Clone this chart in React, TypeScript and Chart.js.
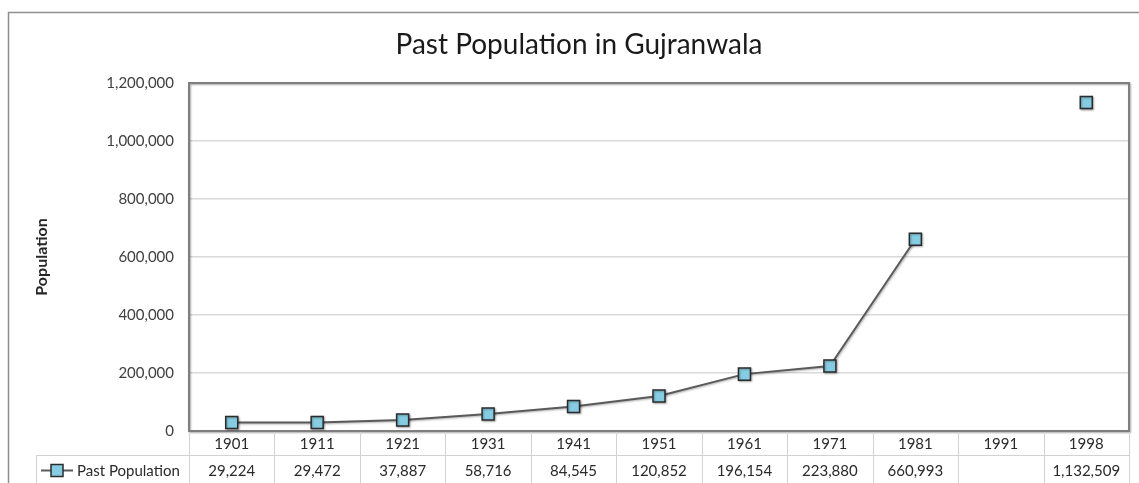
import React, { useEffect, useRef } from 'react';
import { Chart, registerables } from 'chart.js';

Chart.register(...registerables);

const W = 1139;
const H = 483;

const TITLE = 'Past Population in Gujranwala';
const Y_TITLE = 'Population';
const SERIES_NAME = 'Past Population';

const categories = ['1901', '1911', '1921', '1931', '1941', '1951', '1961', '1971', '1981', '1991', '1998'];
const population: (number | null)[] = [29224, 29472, 37887, 58716, 84545, 120852, 196154, 223880, 660993, null, 1132509];
const yTicks = [0, 200000, 400000, 600000, 800000, 1000000, 1200000];

const FONT = 'Lato, "Open Sans", sans-serif';
const LINE_COLOR = '#5a5a5a';
const MARKER_FILL = '#86CDE3';
const MARKER_BORDER = '#2b2b2b';
const TABLE_LINE = '#d2d2d2';
const TEXT_COLOR = '#2a2a2a';

const fmt = (v: number | null) => (v === null || v === undefined ? '' : v.toLocaleString('en-US'));

const decorPlugin = {
  id: 'decor',
  beforeDraw(chart: any) {
    const ctx = chart.ctx as CanvasRenderingContext2D;
    ctx.save();
    ctx.fillStyle = '#ffffff';
    ctx.fillRect(0, 0, chart.width, chart.height);
    // outer chart border
    ctx.strokeStyle = '#8f8f8f';
    ctx.lineWidth = 1.5;
    ctx.strokeRect(8.5, 12.5, chart.width + 20, chart.height + 20);
    // title
    ctx.fillStyle = '#1a1a1a';
    ctx.font = `28px ${FONT}`;
    ctx.textAlign = 'center';
    ctx.textBaseline = 'alphabetic';
    ctx.fillText(TITLE, 579, 54);
    ctx.restore();
  },
  beforeDatasetsDraw(chart: any) {
    const ctx = chart.ctx as CanvasRenderingContext2D;
    const a = chart.chartArea;
    ctx.save();
    ctx.shadowColor = 'rgba(0,0,0,0.35)';
    ctx.shadowBlur = 2;
    ctx.shadowOffsetX = 1;
    ctx.shadowOffsetY = 1;
    ctx.strokeStyle = '#7f7f7f';
    ctx.lineWidth = 2;
    ctx.strokeRect(a.left, a.top, a.right - a.left, a.bottom - a.top);
    ctx.restore();
    // light shadow for the series
    ctx.save();
    ctx.shadowColor = 'rgba(0,0,0,0.3)';
    ctx.shadowBlur = 2;
    ctx.shadowOffsetX = 1;
    ctx.shadowOffsetY = 1;
  },
  afterDatasetsDraw(chart: any) {
    chart.ctx.restore();
  },
  afterDraw(chart: any) {
    const ctx = chart.ctx as CanvasRenderingContext2D;
    const a = chart.chartArea;
    const xs = chart.scales.x;
    const n = categories.length;
    const colW = (a.right - a.left) / n;
    const row1Top = a.bottom + 1;
    const row1Bot = 455;
    const row2Bot = H + 5;
    const legendLeft = 36;

    ctx.save();
    ctx.strokeStyle = TABLE_LINE;
    ctx.lineWidth = 1;
    // horizontal line between rows
    ctx.beginPath();
    ctx.moveTo(legendLeft, row1Bot + 0.5);
    ctx.lineTo(a.right, row1Bot + 0.5);
    ctx.stroke();
    // vertical lines
    for (let i = 0; i <= n; i++) {
      const px = i < n ? xs.getPixelForValue(i) - colW / 2 : xs.getPixelForValue(n - 1) + colW / 2;
      ctx.beginPath();
      ctx.moveTo(Math.round(px) + 0.5, row1Top);
      ctx.lineTo(Math.round(px) + 0.5, row2Bot);
      ctx.stroke();
    }
    ctx.beginPath();
    ctx.moveTo(legendLeft + 0.5, row1Bot);
    ctx.lineTo(legendLeft + 0.5, row2Bot);
    ctx.stroke();

    // text
    ctx.fillStyle = TEXT_COLOR;
    ctx.font = `15px ${FONT}`;
    ctx.textAlign = 'center';
    ctx.textBaseline = 'middle';
    for (let i = 0; i < n; i++) {
      const cx = xs.getPixelForValue(i);
      ctx.fillText(categories[i], cx, 444);
      ctx.fillText(fmt(population[i]), cx, 471);
    }

    // legend key
    const ly = 470.5;
    ctx.strokeStyle = LINE_COLOR;
    ctx.lineWidth = 2;
    ctx.beginPath();
    ctx.moveTo(41, ly);
    ctx.lineTo(73, ly);
    ctx.stroke();
    ctx.fillStyle = MARKER_FILL;
    ctx.strokeStyle = MARKER_BORDER;
    ctx.lineWidth = 1.5;
    ctx.fillRect(51, ly - 6, 12, 12);
    ctx.strokeRect(51, ly - 6, 12, 12);
    ctx.fillStyle = TEXT_COLOR;
    ctx.textAlign = 'left';
    ctx.fillText(SERIES_NAME, 77, 471);
    ctx.restore();
  },
};

export default function App() {
  const ref = useRef<HTMLCanvasElement | null>(null);

  useEffect(() => {
    if (!ref.current) return;
    const chart = new Chart(ref.current, {
      type: 'line',
      data: {
        labels: categories,
        datasets: [
          {
            label: SERIES_NAME,
            data: population,
            borderColor: LINE_COLOR,
            borderWidth: 2,
            pointStyle: 'rect',
            pointRadius: 8.5,
            pointHoverRadius: 8.5,
            pointBackgroundColor: MARKER_FILL,
            pointBorderColor: MARKER_BORDER,
            pointBorderWidth: 1.5,
            tension: 0,
            spanGaps: false,
            clip: false as any,
          },
        ],
      },
      options: {
        responsive: false,
        animation: false,
        events: [],
        layout: { padding: { top: 83, right: 7, bottom: 52, left: 0 } },
        plugins: {
          legend: { display: false },
          title: { display: false },
          tooltip: { enabled: false },
        },
        scales: {
          x: {
            type: 'category',
            offset: true,
            grid: { display: false, drawTicks: false },
            border: { display: false },
            ticks: { display: false },
            afterFit: (s: any) => {
              s.height = 0;
            },
          },
          y: {
            min: yTicks[0],
            max: yTicks[yTicks.length - 1],
            ticks: {
              stepSize: yTicks[1] - yTicks[0],
              padding: 15,
              color: '#404040',
              font: { family: FONT, size: 15 },
              callback: (v: any) => Number(v).toLocaleString('en-US'),
            },
            grid: { color: '#d9d9d9', lineWidth: 1.5, drawTicks: false },
            border: { display: false },
            title: {
              display: true,
              text: Y_TITLE,
              color: '#262626',
              font: { family: FONT, size: 16, weight: 'bold' },
              padding: { top: 32, bottom: 0 },
            },
            afterFit: (s: any) => {
              s.width = 189;
            },
          },
        },
      },
      plugins: [decorPlugin],
    });
    return () => chart.destroy();
  }, []);

  return (
    <div style={{ position: 'absolute', left: 0, top: 0, width: W, height: H }}>
      <canvas ref={ref} width={W} height={H} style={{ display: 'block' }} />
    </div>
  );
}
